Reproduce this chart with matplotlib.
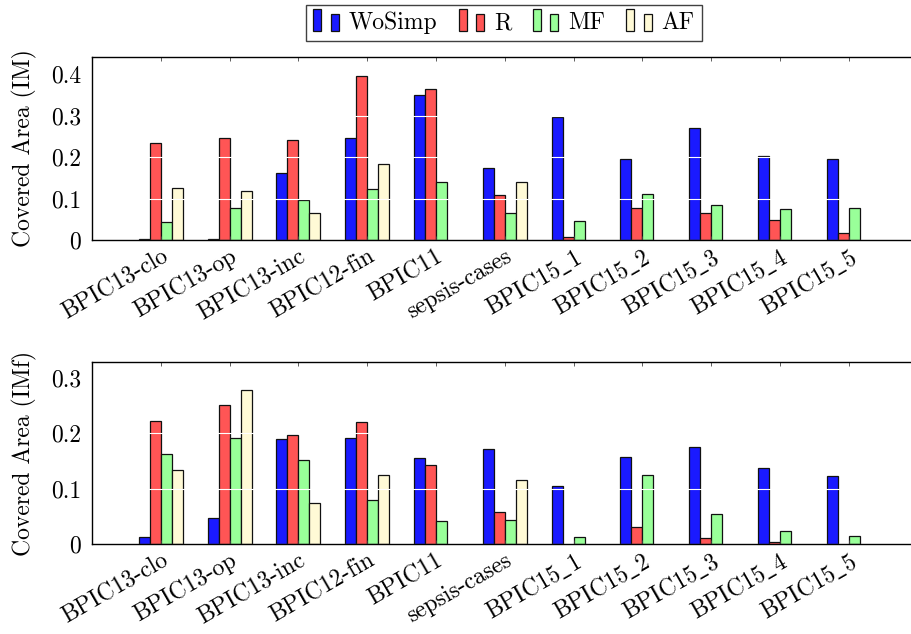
import matplotlib
matplotlib.use("Agg")
import matplotlib.pyplot as plt
import matplotlib.transforms as mtransforms
import numpy as np
from matplotlib.patches import Rectangle
from matplotlib.legend_handler import HandlerBase

plt.rcParams['font.family'] = ['cmr10', 'DejaVu Serif']
plt.rcParams['mathtext.fontset'] = 'cm'
plt.rcParams['axes.unicode_minus'] = False
plt.rcParams['axes.formatter.use_mathtext'] = True

categories = ['BPIC13-clo', 'BPIC13-op', 'BPIC13-inc', 'BPIC12-fin', 'BPIC11',
              'sepsis-cases', r'BPIC15$\_$1', r'BPIC15$\_$2', r'BPIC15$\_$3',
              r'BPIC15$\_$4', r'BPIC15$\_$5']
series_names = ['WoSimp', 'R', 'MF', 'AF']

# Covered Area (IM)
im_wosimp = [0.002, 0.003, 0.161, 0.246, 0.350, 0.174, 0.297, 0.196, 0.269, 0.202, 0.194]
im_r      = [0.234, 0.246, 0.242, 0.395, 0.363, 0.109, 0.008, 0.078, 0.065, 0.047, 0.018]
im_mf     = [0.043, 0.078, 0.096, 0.123, 0.140, 0.064, 0.046, 0.110, 0.084, 0.074, 0.078]
im_af     = [0.126, 0.119, 0.066, 0.182, np.nan, 0.139, np.nan, np.nan, np.nan, np.nan, np.nan]

# Covered Area (IMf)
imf_wosimp = [0.013, 0.047, 0.189, 0.191, 0.155, 0.172, 0.104, 0.157, 0.175, 0.137, 0.123]
imf_r      = [0.222, 0.251, 0.197, 0.220, 0.142, 0.058, np.nan, 0.031, 0.011, 0.003, np.nan]
imf_mf     = [0.163, 0.191, 0.152, 0.080, 0.041, 0.043, 0.013, 0.125, 0.054, 0.023, 0.014]
imf_af     = [0.134, 0.278, 0.075, 0.125, np.nan, 0.115, np.nan, np.nan, np.nan, np.nan, np.nan]

colors = ['#1a1aff', '#ff5555', '#99ff99', '#fffad6']
FS = 17

fig = plt.figure(figsize=(9.12, 6.34), dpi=100)
ax1 = fig.add_axes([92/912, 1-240/634, 1-92/912, (240-57)/634])
ax2 = fig.add_axes([92/912, 1-544/634, 1-92/912, (544-362)/634])

x = np.arange(len(categories))
w = 0.16
offsets = [-1.5, -0.5, 0.5, 1.5]
label_shift = mtransforms.ScaledTranslation(-8/100, 0, fig.dpi_scale_trans)


def draw(ax, data, ylim, yticks, ylabel):
    handles = []
    for s, (vals, c, off) in enumerate(zip(data, colors, offsets)):
        b = ax.bar(x + off*w, vals, width=w, color=c, edgecolor='#111111',
                   linewidth=0.9, zorder=2, label=series_names[s])
        handles.append(b)
    ax.set_xlim(-1, 10.92)
    ax.set_ylim(*ylim)
    ax.set_yticks(yticks)
    ax.set_yticklabels(['0' if t == 0 else f'{t:g}' for t in yticks], fontsize=FS)
    ax.set_xticks(x)
    ax.set_xticklabels(categories, rotation=30, ha='right', va='top',
                       rotation_mode='anchor', fontsize=FS)
    for lab in ax.get_xticklabels():
        lab.set_transform(lab.get_transform() + label_shift)
    ax.tick_params(axis='x', direction='in', top=True, bottom=True, length=3,
                   width=0.6, pad=4, color='#444444')
    ax.tick_params(axis='y', length=0, pad=8)
    ax.yaxis.grid(True, color='white', linewidth=0.8, zorder=3)
    ax.set_axisbelow(False)
    for sp in ax.spines.values():
        sp.set_linewidth(1.0)
        sp.set_zorder(4)
    ax.set_ylabel(ylabel, fontsize=FS, labelpad=10)
    return handles


h = draw(ax1, [im_wosimp, im_r, im_mf, im_af], (0, 0.441), [0, 0.1, 0.2, 0.3, 0.4],
         'Covered Area (IM)')
draw(ax2, [imf_wosimp, imf_r, imf_mf, imf_af], (0, 0.329), [0, 0.1, 0.2, 0.3],
     'Covered Area (IMf)')


class TwoBarHandler(HandlerBase):
    def create_artists(self, legend, orig_handle, xdescent, ydescent, width,
                       height, fontsize, trans):
        patch = orig_handle.patches[0]
        fc = patch.get_facecolor()
        bw = width * 0.28
        r1 = Rectangle((-xdescent, -ydescent - 1), bw, height * 1.3, facecolor=fc,
                       edgecolor='#111111', linewidth=0.9, transform=trans)
        r2 = Rectangle((-xdescent + width * 0.62, -ydescent - 1), bw, height * 1.0,
                       facecolor=fc, edgecolor='#111111', linewidth=0.9, transform=trans)
        return [r1, r2]


leg = fig.legend(h, series_names, loc='center', bbox_to_anchor=(504/912, 1-23/634),
                 ncol=4, fontsize=FS, frameon=True, fancybox=False,
                 edgecolor='#111111', handler_map={type(h[0]): TwoBarHandler()},
                 handlelength=1.2, handletextpad=0.3, columnspacing=0.9,
                 borderpad=0.3)
leg.get_frame().set_linewidth(1.0)

fig.savefig('out.png', dpi=100)
